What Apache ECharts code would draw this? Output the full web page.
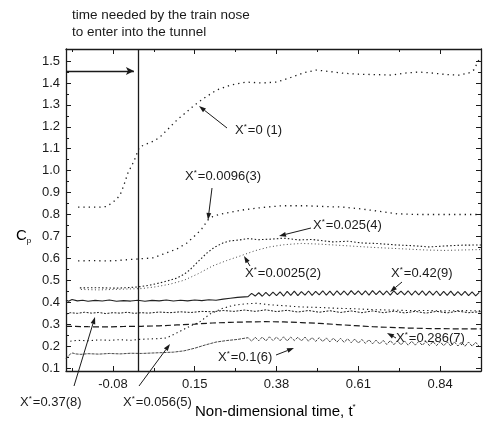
<!DOCTYPE html>
<html>
<head>
<meta charset="utf-8">
<script src="https://cdn.jsdelivr.net/npm/echarts@6/dist/echarts.min.js"></script>
<style>
  html, body { margin: 0; padding: 0; background: #fff; }
  #chart { width: 487px; height: 421px; }
</style>
</head>
<body>
<div id="chart"></div>
<script>
// Axis ticks
const xTickLabels = [-0.08, 0.15, 0.38, 0.61, 0.84];
const xMinorTicks = [-0.195, 0.035, 0.265, 0.495, 0.725];
const yTickLabels = [0.1, 0.2, 0.3, 0.4, 0.5, 0.6, 0.7, 0.8, 0.9, 1.0, 1.1, 1.2, 1.3, 1.4, 1.5];
const yMinorTicks = [0.15, 0.25, 0.35, 0.45, 0.55, 0.65, 0.75, 0.85, 0.95, 1.05, 1.15, 1.25, 1.35, 1.45];

// Time at which the train nose reaches the tunnel portal, and the level of its marker arrow
const noseEntryTime = -0.01;
const noseArrowLevel = 1.455;

// Pressure coefficient histories [t*, Cp] for each measuring position X*
const cpX0 = [[-0.178,0.834],[-0.15,0.834],[-0.12,0.833],[-0.10,0.836],[-0.085,0.85],[-0.07,0.87],[-0.06,0.889],[-0.05,0.93],[-0.038,0.989],[-0.025,1.03],[-0.016,1.062],[-0.01,1.09],[-0.005,1.108],[0.015,1.122],[0.035,1.135],[0.052,1.153],[0.075,1.19],[0.10,1.231],[0.125,1.265],[0.15,1.30],[0.18,1.335],[0.212,1.368],[0.25,1.39],[0.296,1.404],[0.34,1.40],[0.38,1.404],[0.42,1.425],[0.46,1.448],[0.492,1.459],[0.53,1.452],[0.565,1.445],[0.61,1.44],[0.66,1.438],[0.705,1.436],[0.74,1.445],[0.781,1.45],[0.82,1.445],[0.86,1.438],[0.893,1.436],[0.92,1.445],[0.935,1.46],[0.949,1.505]];

const cpX0096 = [[-0.178,0.588],[-0.14,0.59],[-0.10,0.588],[-0.07,0.59],[-0.045,0.593],[-0.01,0.597],[0.032,0.602],[0.071,0.625],[0.10,0.643],[0.128,0.67],[0.155,0.71],[0.17,0.735],[0.187,0.775],[0.20,0.79],[0.218,0.80],[0.25,0.81],[0.29,0.822],[0.34,0.832],[0.395,0.84],[0.46,0.84],[0.52,0.836],[0.565,0.834],[0.62,0.825],[0.68,0.812],[0.72,0.803],[0.78,0.80],[0.85,0.80],[0.955,0.80]];

const cpX025 = [[-0.173,0.465],[-0.13,0.466],[-0.10,0.465],[-0.07,0.464],[-0.04,0.466],[-0.007,0.47],[0.025,0.478],[0.052,0.488],[0.08,0.50],[0.10,0.51],[0.12,0.527],[0.136,0.547],[0.158,0.583],[0.184,0.624],[0.205,0.65],[0.229,0.67],[0.25,0.68],[0.276,0.684],[0.30,0.69],[0.33,0.685],[0.369,0.688],[0.40,0.692],[0.445,0.684],[0.48,0.686],[0.537,0.675],[0.58,0.678],[0.621,0.67],[0.66,0.668],[0.717,0.661],[0.76,0.658],[0.809,0.652],[0.85,0.656],[0.90,0.66],[0.955,0.661]];

const cpX0025 = [[-0.17,0.458],[-0.12,0.456],[-0.08,0.458],[-0.04,0.46],[0.0,0.462],[0.04,0.47],[0.08,0.482],[0.12,0.50],[0.16,0.53],[0.20,0.565],[0.24,0.59],[0.28,0.612],[0.32,0.635],[0.36,0.652],[0.40,0.662],[0.45,0.668],[0.50,0.665],[0.55,0.66],[0.60,0.655],[0.65,0.65],[0.70,0.646],[0.75,0.642],[0.80,0.638],[0.85,0.636],[0.90,0.638],[0.955,0.64]];

const cpX42Head = [[-0.212,0.41],[-0.205,0.404],[-0.195,0.412],[-0.18,0.406],[-0.165,0.409],[-0.15,0.404],[-0.13,0.408],[-0.11,0.405],[-0.09,0.41],[-0.07,0.404],[-0.05,0.407],[-0.03,0.405],[-0.01,0.409],[0.01,0.404],[0.03,0.408],[0.05,0.406],[0.07,0.41],[0.09,0.405],[0.11,0.409],[0.13,0.406],[0.15,0.41],[0.17,0.407],[0.19,0.411],[0.21,0.409],[0.23,0.414],[0.25,0.418],[0.27,0.422],[0.29,0.424]];

const cpX37 = [[-0.212,0.345],[-0.2,0.352],[-0.18,0.349],[-0.16,0.354],[-0.14,0.35],[-0.12,0.353],[-0.10,0.348],[-0.08,0.352],[-0.06,0.35],[-0.04,0.354],[-0.02,0.349],[0.0,0.352],[0.02,0.35],[0.05,0.355],[0.08,0.352],[0.11,0.356],[0.14,0.353],[0.17,0.358],[0.20,0.356],[0.23,0.362],[0.26,0.358],[0.29,0.364],[0.32,0.358],[0.35,0.365],[0.38,0.357],[0.41,0.363],[0.44,0.355],[0.47,0.362],[0.50,0.354],[0.53,0.361],[0.56,0.353],[0.59,0.36],[0.62,0.352],[0.65,0.36],[0.68,0.352],[0.71,0.359],[0.74,0.351],[0.77,0.358],[0.80,0.35],[0.83,0.358],[0.86,0.351],[0.89,0.359],[0.92,0.352],[0.955,0.357]];

const cpX286 = [[-0.212,0.29],[-0.15,0.288],[-0.10,0.287],[-0.05,0.289],[0.0,0.29],[0.05,0.292],[0.10,0.296],[0.15,0.30],[0.20,0.305],[0.25,0.308],[0.30,0.31],[0.35,0.311],[0.40,0.31],[0.45,0.307],[0.50,0.303],[0.55,0.298],[0.60,0.293],[0.65,0.288],[0.70,0.285],[0.75,0.282],[0.80,0.28],[0.85,0.279],[0.90,0.278],[0.955,0.278]];

const cpX056 = [[-0.20,0.222],[-0.18,0.226],[-0.15,0.224],[-0.12,0.228],[-0.09,0.226],[-0.06,0.229],[-0.03,0.226],[-0.01,0.23],[0.02,0.232],[0.05,0.234],[0.071,0.237],[0.10,0.26],[0.136,0.29],[0.164,0.31],[0.192,0.345],[0.225,0.37],[0.257,0.385],[0.29,0.392],[0.324,0.395],[0.36,0.388],[0.40,0.384],[0.45,0.378],[0.50,0.376],[0.55,0.372],[0.60,0.37],[0.65,0.366],[0.70,0.364],[0.75,0.362],[0.80,0.362],[0.85,0.36],[0.90,0.362],[0.955,0.36]];

const cpX1Head = [[-0.212,0.142],[-0.207,0.152],[-0.2,0.163],[-0.193,0.168],[-0.185,0.164],[-0.17,0.162],[-0.15,0.165],[-0.12,0.163],[-0.09,0.166],[-0.06,0.164],[-0.03,0.167],[0.0,0.166],[0.03,0.168],[0.06,0.17],[0.09,0.172],[0.12,0.178],[0.15,0.19],[0.18,0.205],[0.21,0.218],[0.24,0.225],[0.27,0.23]];

// Fine time base for the oscillating tails of X*=0.42 and X*=0.1
const tFine = [0.30,0.31,0.32,0.33,0.34,0.35,0.36,0.37,0.38,0.39,0.40,0.41,0.42,0.43,0.44,0.45,0.46,0.47,0.48,0.49,0.50,0.51,0.52,0.53,0.54,0.55,0.56,0.57,0.58,0.59,0.60,0.61,0.62,0.63,0.64,0.65,0.66,0.67,0.68,0.69,0.70,0.71,0.72,0.73,0.74,0.75,0.76,0.77,0.78,0.79,0.80,0.81,0.82,0.83,0.84,0.85,0.86,0.87,0.88,0.89,0.90,0.91,0.92,0.93,0.94,0.95];
const cpX42Tail = [0.425,0.440,0.428,0.443,0.427,0.445,0.429,0.446,0.430,0.447,0.428,0.449,0.431,0.450,0.430,0.448,0.432,0.451,0.431,0.449,0.433,0.452,0.432,0.450,0.431,0.452,0.433,0.451,0.432,0.453,0.434,0.451,0.433,0.452,0.432,0.453,0.434,0.452,0.433,0.451,0.432,0.452,0.434,0.450,0.433,0.452,0.432,0.451,0.433,0.452,0.431,0.450,0.432,0.451,0.430,0.449,0.431,0.450,0.430,0.448,0.431,0.449,0.430,0.447,0.429,0.445];
const cpX1Tail = [0.238,0.222,0.240,0.224,0.241,0.223,0.242,0.225,0.241,0.224,0.242,0.223,0.241,0.225,0.240,0.223,0.241,0.222,0.239,0.221,0.238,0.220,0.237,0.219,0.236,0.218,0.235,0.217,0.233,0.215,0.232,0.213,0.230,0.212,0.229,0.210,0.227,0.209,0.226,0.207,0.225,0.206,0.224,0.205,0.223,0.204,0.222,0.204,0.221,0.203,0.221,0.202,0.220,0.202,0.220,0.201,0.219,0.200,0.219,0.200,0.218,0.199,0.218,0.199,0.217,0.198];

const cpX42 = cpX42Head.concat(tFine.map((t, i) => [t, cpX42Tail[i]]));
const cpX1 = cpX1Head.concat(tFine.map((t, i) => [t, cpX1Tail[i]]));

const FONT = '"Liberation Sans", Arial, Helvetica, sans-serif';
const INK = '#1a1a1a';

const X_MIN = -0.212, X_MAX = 0.955, Y_MIN = 0.086, Y_MAX = 1.555;

function lineSeries(name, data, style) {
  return {
    name, type: 'line', data, showSymbol: false, silent: true, animation: false,
    xAxisIndex: 0, yAxisIndex: 0,
    lineStyle: Object.assign({ color: INK, width: 1 }, style)
  };
}

function xAxisDef(pos, values, tickLen, withLabels, withLine) {
  return {
    type: 'value', position: pos, min: X_MIN, max: X_MAX,
    axisLine: { show: withLine, onZero: false, lineStyle: { color: INK, width: 1.3 } },
    axisTick: { show: true, inside: true, length: tickLen, customValues: values, lineStyle: { color: INK, width: 1 } },
    axisLabel: withLabels ? {
      show: true, customValues: values, margin: 7, color: INK, fontSize: 13, fontFamily: FONT,
      formatter: v => String(Math.round(v * 100) / 100)
    } : { show: false },
    splitLine: { show: false }
  };
}

function yAxisDef(pos, values, tickLen, withLabels, withLine) {
  return {
    type: 'value', position: pos, min: Y_MIN, max: Y_MAX,
    axisLine: { show: withLine, onZero: false, lineStyle: { color: INK, width: 1.3 } },
    axisTick: { show: true, inside: true, length: tickLen, customValues: values, lineStyle: { color: INK, width: 1 } },
    axisLabel: withLabels ? {
      show: true, customValues: values, margin: 6, color: INK, fontSize: 13, fontFamily: FONT,
      formatter: v => v.toFixed(1)
    } : { show: false },
    splitLine: { show: false }
  };
}

const chart = echarts.init(document.getElementById('chart'), null, { renderer: 'canvas' });

const option = {
  backgroundColor: '#ffffff',
  animation: false,
  grid: { left: 66, right: 6, top: 49, bottom: 50, containLabel: false },
  xAxis: [
    xAxisDef('bottom', xTickLabels, 5, true, true),
    xAxisDef('bottom', xMinorTicks, 3, false, false),
    xAxisDef('top', xTickLabels, 5, false, true),
    xAxisDef('top', xMinorTicks, 3, false, false)
  ],
  yAxis: [
    yAxisDef('left', yTickLabels, 5, true, true),
    yAxisDef('left', yMinorTicks, 3, false, false),
    yAxisDef('right', yTickLabels, 5, false, true),
    yAxisDef('right', yMinorTicks, 3, false, false)
  ],
  series: [
    lineSeries('X*=0 (1)', cpX0, { type: [1.3, 4], width: 1.3 }),
    lineSeries('X*=0.0096(3)', cpX0096, { type: [1.3, 4], width: 1.3 }),
    lineSeries('X*=0.025(4)', cpX025, { type: [1.5, 2.2], width: 1.1 }),
    lineSeries('X*=0.0025(2)', cpX0025, { type: [1, 2.5], width: 1, color: '#444' }),
    lineSeries('X*=0.42(9)', cpX42, { width: 1.1, color: '#222' }),
    lineSeries('X*=0.37(8)', cpX37, { type: [2, 1.5], width: 1 }),
    lineSeries('X*=0.286(7)', cpX286, { type: [6, 3], width: 1.2 }),
    lineSeries('X*=0.056(5)', cpX056, { type: [1.3, 3], width: 1.1 }),
    lineSeries('X*=0.1(6)', cpX1, { type: [3, 1], width: 0.9, color: '#333' }),
    {
      name: 'nose entry', type: 'line', data: [], silent: true, animation: false,
      markLine: {
        silent: true, animation: false, label: { show: false },
        data: [
          [{ coord: [noseEntryTime, Y_MIN], symbol: 'none' }, { coord: [noseEntryTime, Y_MAX], symbol: 'none' }],
          [{ coord: [X_MIN, noseArrowLevel], symbol: 'none' }, { coord: [noseEntryTime - 0.011, noseArrowLevel], symbol: 'arrow', symbolSize: [6, 8] }]
        ],
        lineStyle: { color: INK, width: 1.3, type: 'solid' },
        itemStyle: { color: INK }
      }
    }
  ]
};
chart.setOption(option);

// Annotation text and leader arrows
const rich = {
  x: { fontSize: 13, fontFamily: FONT, color: INK, lineHeight: 15 },
  s: { fontSize: 8, fontFamily: FONT, color: INK, lineHeight: 15, verticalAlign: 'top', padding: [0, 1, 0, 0] }
};

function label(name, value, x, y) {
  return {
    type: 'text', left: x, top: y - 8, silent: true,
    style: { text: '{x|' + name + '}{s|*}{x|' + value + '}', rich, fill: INK }
  };
}

function arrow(x1, y1, x2, y2) {
  const a = Math.atan2(y2 - y1, x2 - x1);
  const L = 7, W = 2.4;
  const bx = x2 - L * Math.cos(a), by = y2 - L * Math.sin(a);
  const px = -Math.sin(a) * W, py = Math.cos(a) * W;
  return [
    { type: 'line', silent: true, shape: { x1, y1, x2: bx, y2: by }, style: { stroke: INK, lineWidth: 1 } },
    { type: 'polygon', silent: true, shape: { points: [[x2, y2], [bx + px, by + py], [bx - px, by - py]] }, style: { fill: INK } }
  ];
}

const graphics = [
  { type: 'text', left: 72, top: 8, silent: true, style: { text: 'time needed by the train nose', font: '13.5px ' + FONT, fill: INK } },
  { type: 'text', left: 72, top: 25, silent: true, style: { text: 'to enter into the tunnel', font: '13.5px ' + FONT, fill: INK } },
  {
    type: 'text', left: 16, top: 228, silent: true,
    style: {
      text: '{c|C}{p|p}',
      rich: {
        c: { fontSize: 15, fontFamily: FONT, color: INK, lineHeight: 18 },
        p: { fontSize: 8, fontFamily: FONT, color: INK, lineHeight: 18, verticalAlign: 'bottom' }
      }
    }
  },
  {
    type: 'text', left: 195, top: 403, silent: true,
    style: {
      text: '{t|Non-dimensional time, t}{s|*}',
      rich: {
        t: { fontSize: 15, fontFamily: FONT, color: INK, lineHeight: 17 },
        s: { fontSize: 8, fontFamily: FONT, color: INK, lineHeight: 17, verticalAlign: 'top' }
      }
    }
  },
  label('X', '=0 (1)', 235, 131),
  label('X', '=0.0096(3)', 185, 177),
  label('X', '=0.025(4)', 313, 226),
  label('X', '=0.0025(2)', 245, 274),
  label('X', '=0.42(9)', 391, 274),
  label('X', '=0.286(7)', 396, 339),
  label('X', '=0.1(6)', 218, 358),
  label('X', '=0.37(8)', 20, 403),
  label('X', '=0.056(5)', 123, 403)
].concat(
  arrow(227, 128, 199, 106),
  arrow(212, 188, 208, 220),
  arrow(311, 228, 279, 236),
  arrow(250, 266, 244, 256),
  arrow(402, 282, 390, 292),
  arrow(396, 338, 387, 333),
  arrow(276, 355, 294, 348),
  arrow(74, 386, 95, 317),
  arrow(139, 386, 170, 344)
);

chart.setOption({ graphic: graphics });
</script>
</body>
</html>
